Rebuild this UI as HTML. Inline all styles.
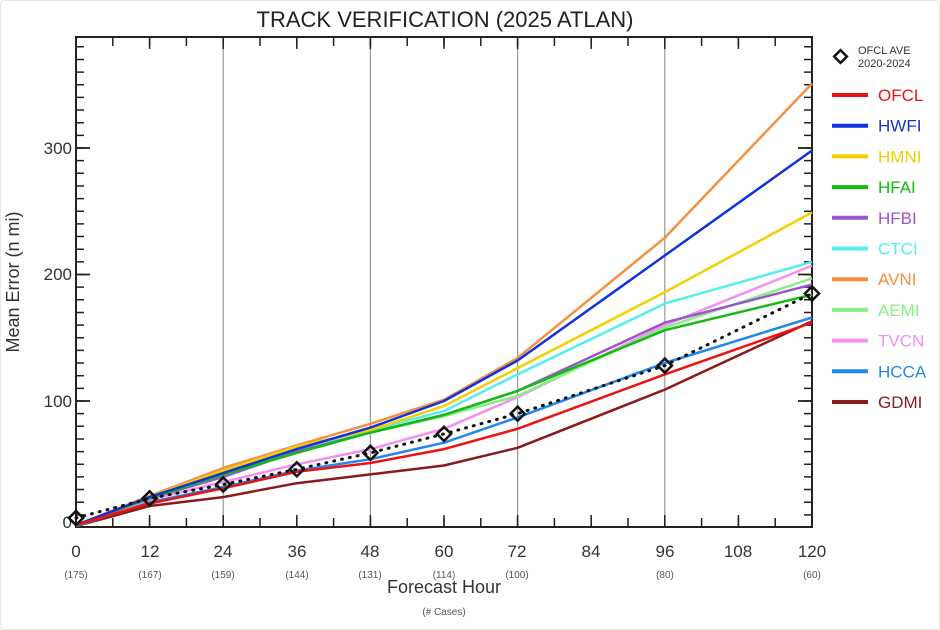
<!DOCTYPE html>
<html><head><meta charset="utf-8"><style>
html,body{margin:0;padding:0;background:#fff;}
svg{display:block;font-family:"Liberation Sans",sans-serif;}
</style></head><body>
<svg width="940" height="630" viewBox="0 0 940 630" xmlns="http://www.w3.org/2000/svg">
<rect x="0.5" y="0.5" width="939" height="629" rx="4" fill="#fff" stroke="#e4e6ea"/>
<text x="445" y="27" font-size="22" text-anchor="middle" fill="#222">TRACK VERIFICATION (2025 ATLAN)</text>
<g stroke="#999" stroke-width="1.2">
<line x1="223.2" y1="37" x2="223.2" y2="527"/><line x1="370.4" y1="37" x2="370.4" y2="527"/>
<line x1="517.6" y1="37" x2="517.6" y2="527"/><line x1="664.8" y1="37" x2="664.8" y2="527"/>
</g>
<rect x="76" y="37" width="736" height="490" stroke="#222" stroke-width="2" fill="none"/>
<g stroke="#222" fill="none">
<line x1="80" y1="527.5" x2="80" y2="37" stroke-width="8" stroke-dasharray="1.5 11.15" stroke-dashoffset="0.75"/>
<line x1="808" y1="527.5" x2="808" y2="37" stroke-width="8" stroke-dasharray="1.5 11.15" stroke-dashoffset="0.75"/>
<line x1="76" y1="522.5" x2="812" y2="522.5" stroke-width="9" stroke-dasharray="1.5 35.3" stroke-dashoffset="0.75"/>
<line x1="76" y1="41.5" x2="812" y2="41.5" stroke-width="9" stroke-dasharray="1.5 35.3" stroke-dashoffset="0.75"/>
<line x1="76" y1="521" x2="812" y2="521" stroke-width="12" stroke-dasharray="1.5 72.1" stroke-dashoffset="0.75"/>
<line x1="76" y1="43" x2="812" y2="43" stroke-width="12" stroke-dasharray="1.5 72.1" stroke-dashoffset="0.75"/>
<g stroke-width="1.8">
<line x1="76" y1="401" x2="90" y2="401"/><line x1="76" y1="274.5" x2="90" y2="274.5"/><line x1="76" y1="148" x2="90" y2="148"/>
<line x1="812" y1="401" x2="798" y2="401"/><line x1="812" y1="274.5" x2="798" y2="274.5"/><line x1="812" y1="148" x2="798" y2="148"/>
</g>
</g>
<g font-size="17" fill="#333" text-anchor="end">
<text x="72" y="528">0</text><text x="72" y="407">100</text><text x="72" y="280">200</text><text x="72" y="154">300</text>
</g>
<text transform="translate(19,282) rotate(-90)" font-size="18" fill="#333" text-anchor="middle">Mean Error (n mi)</text>
<g font-size="17" fill="#333" text-anchor="middle">
<text x="76" y="557">0</text><text x="150" y="557">12</text><text x="223" y="557">24</text><text x="297" y="557">36</text><text x="370" y="557">48</text><text x="444" y="557">60</text><text x="517" y="557">72</text><text x="591" y="557">84</text><text x="665" y="557">96</text><text x="738" y="557">108</text><text x="812" y="557">120</text>
</g>
<g font-size="10" fill="#555" text-anchor="middle">
<text x="76" y="578">(175)</text><text x="150" y="578">(167)</text><text x="223" y="578">(159)</text><text x="297" y="578">(144)</text><text x="370" y="578">(131)</text><text x="444" y="578">(114)</text><text x="517" y="578">(100)</text><text x="665" y="578">(80)</text><text x="812" y="578">(60)</text>
</g>
<text x="444" y="593" font-size="18" fill="#333" text-anchor="middle">Forecast Hour</text>
<text x="444" y="615" font-size="10" fill="#555" text-anchor="middle">(# Cases)</text>
<g fill="none" stroke-width="2.5" stroke-linejoin="round">
<polyline stroke="#8b1a1a" points="76,526.2 149.6,506 223.2,497.1 296.8,483.2 370.4,474.4 444,465.5 517.6,447.8 664.8,389.6 812,321.3"/>
<polyline stroke="#2288ee" points="76,526.2 149.6,502.2 223.2,487 296.8,470.6 370.4,459.2 444,442.7 517.6,417.4 664.8,363 812,317.5"/>
<polyline stroke="#f590f0" points="76,525 149.6,499.7 223.2,482 296.8,464.3 370.4,449.1 444,428.8 517.6,397.2 664.8,325.1 812,265.6"/>
<polyline stroke="#88ee88" points="76,525 149.6,497.1 223.2,474.4 296.8,449.1 370.4,432.6 444,416.2 517.6,395.9 664.8,327.6 812,278.3"/>
<polyline stroke="#f59040" points="76,525 149.6,495.9 223.2,468 296.8,445.3 370.4,423.8 444,399.7 517.6,358 664.8,237.8 812,83.5"/>
<polyline stroke="#55eeee" points="76,525 149.6,497.1 223.2,471.8 296.8,447.8 370.4,430.1 444,411.1 517.6,374.4 664.8,303.6 812,261.9"/>
<polyline stroke="#9955cc" points="76,525 149.6,498.4 223.2,476.9 296.8,451.6 370.4,432.6 444,414.9 517.6,390.9 664.8,322.6 812,284.6"/>
<polyline stroke="#11bb11" points="76,525 149.6,498.4 223.2,474.4 296.8,452.9 370.4,432.6 444,414.9 517.6,390.9 664.8,330.2 812,294.7"/>
<polyline stroke="#f2d000" points="76,525 149.6,497.1 223.2,470.6 296.8,446.5 370.4,430.1 444,406.1 517.6,368.1 664.8,292.2 812,212.5"/>
<polyline stroke="#1133dd" points="76,525 149.6,497.1 223.2,473.1 296.8,449.1 370.4,427.6 444,401 517.6,360.5 664.8,255.5 812,150.5"/>
<polyline stroke="#ee1111" points="76,525 149.6,503.5 223.2,488.3 296.8,471.8 370.4,463 444,449.1 517.6,428.8 664.8,374.4 812,322.6"/>
<polyline stroke="#111" stroke-width="3" stroke-dasharray="1 7" stroke-linecap="round" points="76,518 149.6,498.4 223.2,484.5 296.8,469.3 370.4,452.9 444,433.9 517.6,413.7 664.8,365.6 812,293.5"/>
</g>
<g fill="none" stroke="#111" stroke-width="2.5">
<rect x="71" y="513" width="10" height="10" transform="rotate(45 76 518)"/>
<rect x="144.6" y="493.4" width="10" height="10" transform="rotate(45 149.6 498.4)"/>
<rect x="218.2" y="479.5" width="10" height="10" transform="rotate(45 223.2 484.5)"/>
<rect x="291.8" y="464.3" width="10" height="10" transform="rotate(45 296.8 469.3)"/>
<rect x="365.4" y="447.9" width="10" height="10" transform="rotate(45 370.4 452.9)"/>
<rect x="439" y="428.9" width="10" height="10" transform="rotate(45 444 433.9)"/>
<rect x="512.6" y="408.7" width="10" height="10" transform="rotate(45 517.6 413.7)"/>
<rect x="659.8" y="360.6" width="10" height="10" transform="rotate(45 664.8 365.6)"/>
<rect x="807" y="288.5" width="10" height="10" transform="rotate(45 812 293.5)"/>
<rect x="836" y="52" width="9" height="9" transform="rotate(45 840.5 56.5)"/>
</g>
<text x="858" y="54" font-size="11" fill="#333">OFCL AVE</text><text x="858" y="67" font-size="11" fill="#333">2020-2024</text>
<g stroke-width="4">
<line x1="832" y1="95" x2="868" y2="95" stroke="#ee1111"/>
<line x1="832" y1="125.7" x2="868" y2="125.7" stroke="#1133dd"/>
<line x1="832" y1="156.4" x2="868" y2="156.4" stroke="#f2d000"/>
<line x1="832" y1="187.1" x2="868" y2="187.1" stroke="#11bb11"/>
<line x1="832" y1="217.8" x2="868" y2="217.8" stroke="#9955cc"/>
<line x1="832" y1="248.5" x2="868" y2="248.5" stroke="#55eeee"/>
<line x1="832" y1="279.2" x2="868" y2="279.2" stroke="#f59040"/>
<line x1="832" y1="309.9" x2="868" y2="309.9" stroke="#88ee88"/>
<line x1="832" y1="340.6" x2="868" y2="340.6" stroke="#f590f0"/>
<line x1="832" y1="371.3" x2="868" y2="371.3" stroke="#2288ee"/>
<line x1="832" y1="402" x2="868" y2="402" stroke="#8b1a1a"/>
</g>
<g font-size="17">
<text x="878" y="101" fill="#ee1111">OFCL</text>
<text x="878" y="131.7" fill="#1133dd">HWFI</text>
<text x="878" y="162.4" fill="#f2d000">HMNI</text>
<text x="878" y="193.1" fill="#11bb11">HFAI</text>
<text x="878" y="223.8" fill="#9955cc">HFBI</text>
<text x="878" y="254.5" fill="#55eeee">CTCI</text>
<text x="878" y="285.2" fill="#f59040">AVNI</text>
<text x="878" y="315.9" fill="#88ee88">AEMI</text>
<text x="878" y="346.6" fill="#f590f0">TVCN</text>
<text x="878" y="377.3" fill="#2288ee">HCCA</text>
<text x="878" y="408" fill="#8b1a1a">GDMI</text>
</g>
</svg>
</body></html>
